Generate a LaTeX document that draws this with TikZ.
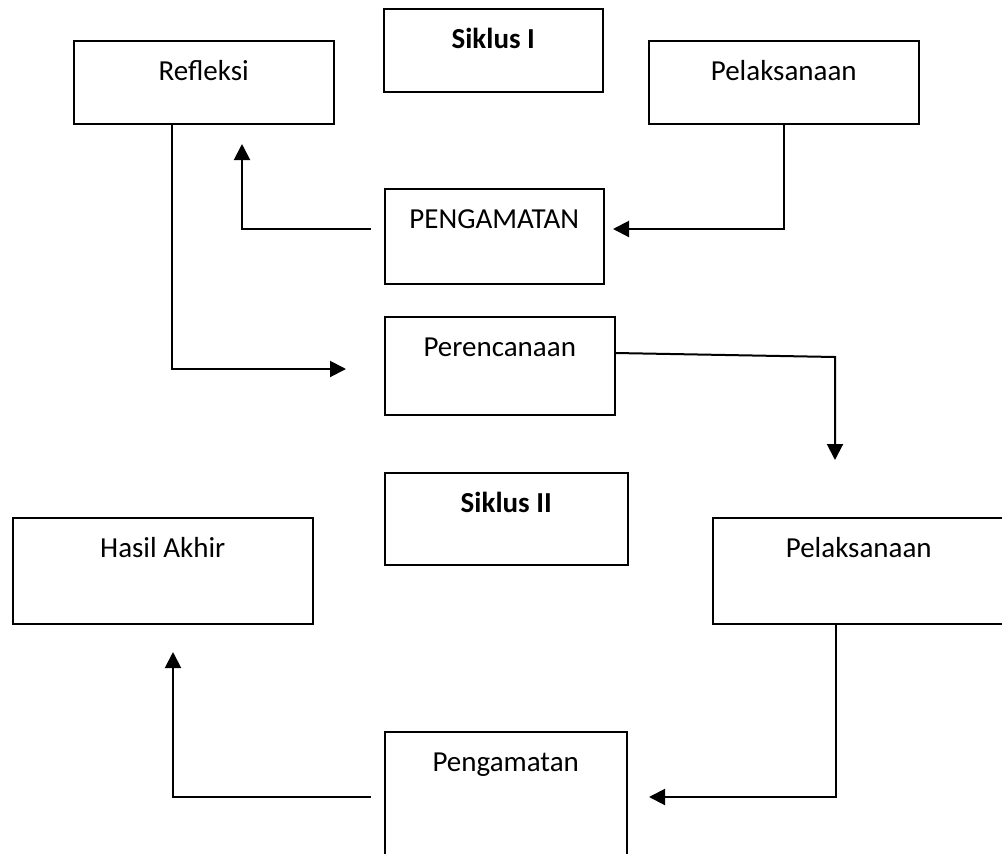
\documentclass[tikz,border=0pt]{standalone}
\usepackage{fontspec}
\setmainfont{Carlito}
\usetikzlibrary{arrows.meta}

\begin{document}
\begin{tikzpicture}[x=1pt,y=-1pt,
    box/.style={draw, line width=1.5pt, inner sep=0pt, text height=40pt,
        anchor=north west, font=\fontsize{29}{35}\selectfont},
    judul/.style={box, font=\fontsize{29}{35}\selectfont\bfseries},
    conn/.style={line width=2pt, -{Triangle[length=16pt,width=16pt]}}]
\useasboundingbox (0,0) rectangle (1002,854);

% Siklus I
\node[judul, minimum width=219pt, text depth=43pt] (siklus1) at (383,8) {Siklus I};
\node[box, minimum width=260pt, text depth=43pt] (refleksi) at (73,40) {Refleksi};
\node[box, minimum width=270pt, text depth=43pt] (laksana1) at (648,40) {Pelaksanaan};
\node[box, minimum width=219pt, text depth=55pt] (amat1) at (384,188) {PENGAMATAN};
\node[box, minimum width=230pt, text depth=58pt] (rencana) at (384,316) {Perencanaan};

% Siklus II
\node[judul, minimum width=243pt, text depth=52pt] (siklus2) at (384,472) {Siklus II};
\node[box, minimum width=300pt, text depth=66pt] (hasil) at (12,517) {Hasil Akhir};
\node[box, minimum width=292pt, text depth=66pt] (laksana2) at (712,517) {Pelaksanaan};
\node[box, minimum width=242pt, text depth=100pt] (amat2) at (384,731) {Pengamatan};

% ujung panah
\coordinate (e1) at (346,369);
\coordinate (s2) at (371,229);
\coordinate (e2) at (242,144);
\coordinate (e3) at (613,229);
\coordinate (k4) at (835,357);
\coordinate (e4) at (835,460);
\coordinate (e5) at (649,797);
\coordinate (s6) at (371,797);
\coordinate (e6) at (173,652);

\draw[conn] ([xshift=99pt]refleksi.south west) |- (e1);
\draw[conn] (s2) -| (e2);
\draw[conn] ([xshift=136pt]laksana1.south west) |- (e3);
\draw[conn] ([yshift=-37pt]rencana.north east) -- (k4) -- (e4);
\draw[conn] ([xshift=124pt]laksana2.south west) |- (e5);
\draw[conn] (s6) -| (e6);
\end{tikzpicture}
\end{document}
